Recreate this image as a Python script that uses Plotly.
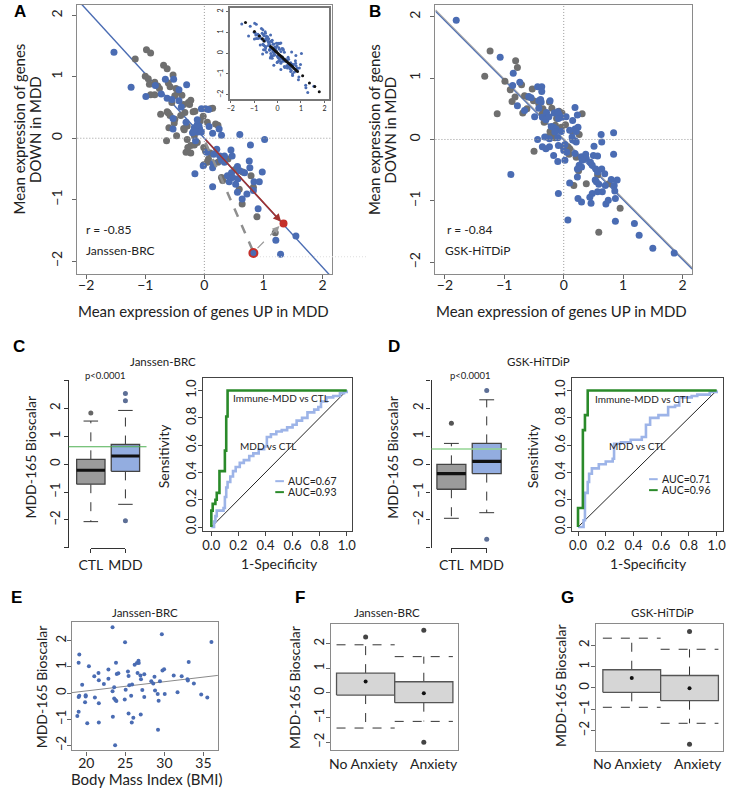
import plotly.graph_objects as go

W, H = 741, 791
FONT = "Lato, 'Open Sans', sans-serif"
LABFONT = "'Liberation Sans', Arial, sans-serif"
BLUE = "#4a6cb3"
GREY = "#6f6f6f"
TXT = "#222222"

# ---------------- Panel A : Janssen-BRC ----------------
A_blue = [(-1.53,1.40),(-1.24,0.83),(-0.99,0.68),(-0.83,0.86),(-0.66,0.96),(-0.52,0.96),(-0.73,0.72),(-0.63,0.65),
          (-0.30,0.87),(-0.43,0.61),(-0.39,0.51),(-0.53,0.32),(-0.43,0.79),(-0.55,0.63),(-0.31,0.26),(-0.53,0.15),
          (-0.17,0.17),(-0.15,0.12),(-0.12,0.16),(-0.09,0.20),(-0.20,0.09),(-0.05,0.10),(-0.13,0.14),(-0.10,0.12),
          (-0.14,0.18),(-0.08,0.15),(-0.11,0.10),(-0.16,0.13),(-0.12,0.22),(-0.18,0.12),
          (-0.05,0.48),(0.02,0.48),(0.07,0.47),(-0.12,0.30),(0.08,0.19),(0.25,0.15),(0.29,0.05),(0.14,0.08),
          (-0.15,-0.04),(0.04,-0.23),(0.16,-0.26),(0.21,-0.18),(0.26,-0.29),(0.29,-0.36),(-0.02,-0.45),(0.15,-0.41),
          (0.14,-0.48),(0.34,-0.39),(0.34,-0.29),(0.45,-0.19),(0.47,-0.29),(0.60,0.06),(0.78,-0.11),(1.02,-0.02),
          (-0.16,-0.58),(0.39,-0.61),(0.46,-0.56),(0.48,-0.64),(0.42,-0.71),(0.56,-0.46),(0.60,-0.53),(0.57,-0.66),
          (0.68,-0.56),(0.76,-0.37),(0.77,-0.48),(0.84,-0.71),(0.98,-0.55),(0.93,-0.71),(0.14,-0.79),(0.53,-0.75),
          (0.56,-0.88),(0.72,-0.91),(0.83,-0.85),(0.64,-0.99),(0.91,-1.15),(1.21,-1.66),(1.55,-1.59),(1.29,-1.89)]
A_grey = [(-1.17,1.29),(-0.98,1.44),(-0.91,1.39),(-1.00,1.01),(-0.95,0.97),(-0.91,0.71),(-0.93,0.88),(-0.84,0.71),
          (-0.76,0.81),(-0.69,1.19),(-0.63,1.13),(-0.61,0.90),(-0.58,0.84),(-0.74,0.39),(-0.63,0.43),(-0.58,0.37),
          (-0.48,0.81),(-0.45,0.75),(-0.50,0.69),(-0.55,0.58),(-0.35,0.55),(-0.23,0.62),(-0.25,0.55),(-0.33,0.42),
          (-0.16,0.44),(-0.40,0.37),(-0.50,0.31),(-0.60,0.17),(-0.47,0.04),(-0.64,-0.04),(-0.34,0.14),(-0.29,0.20),
          (0.10,0.48),(0.14,0.49),(-0.02,0.36),(-0.07,0.28),(0.05,0.26),(0.19,0.23),(0.23,0.21),(-0.17,0.04),
          (-0.29,-0.02),(-0.23,-0.12),(-0.28,-0.15),(-0.17,-0.11),(-0.12,-0.07),(-0.31,-0.23),(-0.23,-0.24),
          (-0.01,-0.15),(0.02,-0.21),(0.10,-0.24),(0.07,-0.34),(0.23,-0.39),(-0.01,-0.43),(0.05,-0.39),(0.40,-0.34),
          (0.29,-0.64),(0.31,-0.69),(0.52,-0.51),(0.65,-0.55),(0.79,-0.61),(0.59,-0.83),(0.83,-0.80),(0.64,-1.07),
          (0.89,-1.28),(1.20,-1.54),(-0.53,1.03),(-0.84,0.91),(-0.79,0.85),(-0.38,0.70),(-0.27,0.58),(-0.19,0.43),
          (-0.51,0.25),(-0.35,0.16),(-0.61,0.41)]
A_fit = (0.0, -1.05)           # intercept, slope
A_r_text = "r = -0.85"
A_red_arrow = [(0.0, 0.0), (1.30, -1.36)]
A_grey_dash = [(0.02, -0.07), (0.82, -1.83)]
A_grey_arrow = [(0.90, -1.79), (1.27, -1.43)]
A_red_point = (1.34, -1.39)
A_ring_point = (0.83, -1.87)
A_proj = [(-1.37,1.47),(-0.99,1.04),(-0.78,0.83),(-0.65,0.69),(-0.58,0.59),(-0.30,0.32),(-0.25,0.27),(-0.20,0.22),
          (-0.15,0.17),(-0.10,0.11),(-0.05,0.06),(0.00,0.01),(0.05,-0.05),(0.10,-0.10),(0.15,-0.15),(0.20,-0.20),
          (0.25,-0.26),(0.30,-0.31),(0.35,-0.36),(0.40,-0.41),(0.45,-0.46),(0.50,-0.51),(0.55,-0.56),(0.60,-0.61),
          (0.65,-0.67),(0.70,-0.72),(0.75,-0.77),(0.80,-0.83),(0.85,-0.88),(1.07,-1.08),(1.36,-1.43),(1.59,-1.60),
          (1.78,-1.85)]

# ---------------- Panel B : GSK-HiTDiP ----------------
B_blue = [(-1.81,1.94),(-1.07,1.34),(-0.85,1.08),(-0.86,0.88),(-0.78,0.55),(-0.89,-0.57),(-0.74,0.93),(-0.66,0.47),
          (-0.59,0.70),(-0.55,0.68),(-0.49,0.37),(-0.44,0.86),(-0.37,0.86),(-0.37,0.78),(-0.42,0.63),(-0.39,0.65),
          (-0.42,0.51),(-0.38,0.61),(-0.36,0.36),(-0.29,0.44),(-0.30,0.32),(-0.23,0.63),(-0.16,0.43),(-0.10,0.45),
          (-0.08,0.41),(-0.04,0.36),(-0.09,0.34),(-0.25,0.37),(-0.21,0.21),(-0.17,0.20),(-0.13,0.17),(-0.04,0.13),
          (-0.15,0.12),(-0.24,0.01),(-0.32,0.04),(-0.44,0.00),(-0.10,0.03),(0.04,0.37),(0.15,0.31),(0.19,0.52),
          (0.23,0.40),(0.19,0.17),(0.24,0.20),(0.21,0.13),(0.10,0.15),(0.14,0.04),(0.15,-0.01),(0.19,-0.02),
          (0.21,-0.04),(-0.09,-0.10),(0.02,-0.08),(0.00,-0.18),(0.05,-0.21),(-0.36,-0.12),(-0.30,-0.15),(-0.24,-0.12),
          (-0.17,-0.26),(-0.10,-0.36),(0.02,-0.34),(0.19,-0.23),(0.30,-0.28),(0.37,-0.24),(0.38,-0.31),(0.26,-0.42),
          (0.31,-0.34),(0.23,-0.48),(0.30,-0.45),(0.23,-0.61),(0.45,-0.37),(0.48,-0.42),(0.51,-0.11),(0.50,-0.26),
          (0.57,-0.27),(0.63,0.08),(0.64,-0.04),(0.84,0.11),(0.84,-0.24),(0.54,-0.48),(0.57,-0.53),(0.53,-0.66),
          (0.48,-0.88),(0.55,-0.69),(0.59,-0.73),(0.64,-0.48),(0.69,-0.56),(0.65,-0.85),(0.70,-0.75),(0.71,-1.05),
          (0.75,-0.99),(0.80,-0.65),(0.85,-0.75),(0.90,-0.66),(0.86,-0.84),(0.87,-0.96),(0.10,-0.71),(0.24,-0.96),
          (0.30,-1.02),(0.44,-0.94),(0.46,-1.04),(0.57,-0.85),(-0.09,-0.88),(0.07,-1.31),(0.87,-1.33),(1.19,-1.37),
          (1.27,-1.56),(1.50,-1.77),(1.86,-1.85)]
B_grey = [(-1.24,1.44),(-1.33,1.03),(-0.81,1.28),(-0.78,1.17),(-0.99,0.95),(-0.90,0.81),(-0.82,0.69),(-0.87,0.62),
          (-1.12,0.42),(-0.71,0.89),(-0.66,0.71),(-0.69,0.43),(-0.62,0.50),(-0.60,0.69),(-0.53,0.82),(-0.51,0.63),
          (-0.42,0.58),(-0.35,0.50),(-0.36,0.42),(-0.30,0.39),(-0.33,0.28),(-0.24,0.61),(-0.20,0.51),(-0.08,0.46),
          (-0.03,0.43),(-0.12,0.34),(-0.14,0.23),(-0.08,0.16),(-0.04,0.20),(-0.23,0.13),(-0.19,0.06),(-0.28,0.04),
          (-0.15,0.03),(0.03,0.24),(0.31,0.42),(0.15,0.13),(0.26,0.08),(-0.01,-0.12),(0.07,-0.12),(0.10,-0.15),
          (-0.50,-0.19),(0.09,-0.24),(0.21,-0.29),(0.25,-0.51),(0.57,-0.58),(0.76,-0.72),(0.95,-1.12),(0.17,-0.75),
          (0.38,-0.72),(0.59,-1.51)]
B_fit_grey = (0.008, -0.972)
B_fit_blue = (-0.012, -0.972)
B_r_text = "r = -0.84"

# ---------------- Panels C / D : boxplots (CTL vs MDD) ----------------
box_groups = ["CTL", "MDD"]
# q1, median, q3, lower whisker, upper whisker
C_stats = {"CTL": (-0.72, -0.22, 0.17, -2.06, 1.54), "MDD": (-0.26, 0.29, 0.70, -1.44, 1.92)}
C_out = {"CTL": [1.83], "MDD": [2.53, 2.27, -2.03]}
C_cut = 0.62
D_stats = {"CTL": (-0.90, -0.34, -0.01, -1.94, 0.74), "MDD": (-0.34, 0.10, 0.74, -1.74, 2.30)}
D_out = {"CTL": [1.46], "MDD": [2.63, -2.69]}
D_cut = 0.54

# ---------------- ROC curves ----------------
C_roc_all = [(0,0),(0.02,0.04),(0.03,0.08),(0.04,0.12),(0.09,0.14),(0.10,0.22),(0.11,0.29),(0.12,0.33),(0.14,0.37),
             (0.16,0.41),(0.18,0.44),(0.21,0.47),(0.24,0.49),(0.28,0.52),(0.31,0.54),(0.35,0.57),(0.39,0.59),
             (0.41,0.66),(0.44,0.68),(0.48,0.70),(0.52,0.71),(0.56,0.73),(0.60,0.75),(0.63,0.78),(0.67,0.80),
             (0.71,0.84),(0.76,0.86),(0.79,0.88),(0.81,0.92),(0.85,0.95),(0.90,0.96),(0.95,0.98),(0.98,0.99),(1.0,1.0)]
C_roc_imm = [(0,0),(0,0.12),(0.01,0.17),(0.03,0.20),(0.04,0.25),(0.06,0.41),(0.10,0.56),(0.11,0.81),(0.12,1.0),(1.0,1.0)]
D_roc_all = [(0,0),(0.04,0.05),(0.05,0.25),(0.07,0.33),(0.08,0.39),(0.10,0.43),(0.15,0.46),(0.20,0.48),(0.25,0.50),
             (0.26,0.61),(0.31,0.62),(0.38,0.64),(0.46,0.66),(0.49,0.75),(0.52,0.80),(0.58,0.82),(0.65,0.88),
             (0.70,0.89),(0.73,0.95),(0.82,0.96),(0.86,0.97),(0.95,0.99),(1.0,1.0)]
D_roc_imm = [(0,0),(0,0.14),(0.035,0.71),(0.05,0.82),(0.07,1.0),(1.0,1.0)]
C_auc = ["AUC=0.67", "AUC=0.93"]
D_auc = ["AUC=0.71", "AUC=0.96"]

# ---------------- Panel E : BMI ----------------
E_pts = [(18.85,-0.87),(19.02,-0.71),(19.02,-0.15),(19.10,-0.10),(19.02,1.16),(19.10,1.48),(19.47,0.32),(19.92,-0.13),
         (19.92,-0.08),(19.84,-0.35),(20.12,-1.15),(20.33,1.03),(21.02,0.64),(21.10,-0.17),(21.56,0.77),(21.60,0.49),
         (21.60,-0.39),(21.60,-1.12),(22.25,0.35),(22.83,0.90),(22.83,0.55),(23.36,2.52),(23.36,0.07),(23.40,-0.90),
         (23.57,0.22),(23.57,-0.21),(23.73,-0.26),(23.80,1.16),(23.90,0.73),(24.10,0.76),(23.69,-1.99),(23.85,-0.30),
         (24.96,1.94),(24.92,-0.24),(25.04,0.13),(25.33,0.83),(25.41,0.65),(25.50,0.30),(25.41,-0.78),(25.74,-0.10),
         (25.86,0.33),(25.82,-1.12),(26.02,-0.94),(26.19,1.08),(26.48,1.15),(26.68,1.24),(26.72,1.15),(26.56,0.77),
         (26.97,-0.82),(27.00,0.53),(26.93,0.67),(27.17,0.12),(27.42,-0.15),(27.42,0.72),(28.32,0.45),(28.57,0.37),
         (28.73,0.63),(28.80,0.10),(29.14,-0.03),(29.26,-0.29),(29.43,0.45),(29.18,-1.40),(29.67,2.25),(29.75,0.86),
         (29.96,0.91),(30.04,-0.03),(31.19,0.67),(31.68,0.03),(32.21,0.64),(32.95,0.53),(33.00,0.48),(33.11,1.19),
         (33.77,0.37),(34.71,-0.05),(35.49,-0.17),(36.02,1.95)]
E_fit = (-0.62, 0.0352)

# ---------------- Panels F / G : anxiety ----------------
anx_groups = ["No Anxiety", "Anxiety"]
# q1, mean dot, q3, lower whisker, upper whisker
F_stats = {"No Anxiety": (-0.09, 0.46, 0.80, -1.43, 1.95), "Anxiety": (-0.40, -0.02, 0.45, -1.16, 1.47)}
F_out = {"No Anxiety": [2.27], "Anxiety": [2.54, -2.01]}
G_stats = {"No Anxiety": (-0.21, 0.46, 0.85, -0.91, 2.33), "Anxiety": (-0.60, -0.02, 0.58, -1.66, 1.81)}
G_out = {"No Anxiety": [], "Anxiety": [2.64, -2.64]}

# =====================================================================
fig = go.Figure()


def xs(pts):
    return [p[0] for p in pts]


def ys(pts):
    return [p[1] for p in pts]


def sc(x, y, n, ny=None, **kw):
    xa = "x" if n == 1 else f"x{n}"
    nyy = n if ny is None else ny
    ya = "y" if nyy == 1 else f"y{nyy}"
    fig.add_trace(go.Scatter(x=x, y=y, xaxis=xa, yaxis=ya, showlegend=False, hoverinfo="skip", **kw))


def dx(px):
    return px / W


def dy(py):
    return 1 - py / H


axes = {}


def ax_pair(n, xpx, ypx, xr, yr, xkw=None, ykw=None):
    base = dict(showgrid=False, zeroline=False, ticks="outside", ticklen=4, tickwidth=1, tickcolor="#666",
                linecolor="#8a8a8a", linewidth=1.3, showline=True, mirror=True, fixedrange=True,
                tickfont=dict(family=FONT, size=14, color=TXT))
    xa = dict(base, domain=[dx(xpx[0]), dx(xpx[1])], range=list(xr), anchor="y" if n == 1 else f"y{n}")
    ya = dict(base, domain=[dy(ypx[1]), dy(ypx[0])], range=list(yr), anchor="x" if n == 1 else f"x{n}",
              tickangle=-90)
    if xkw:
        xa.update(xkw)
    if ykw:
        ya.update(ykw)
    axes["xaxis" if n == 1 else f"xaxis{n}"] = xa
    axes["yaxis" if n == 1 else f"yaxis{n}"] = ya


shapes = []
annos = []


def txt(s, px, py, size, angle=0, xanchor="center", color=TXT, family=FONT):
    if angle:
        px = px - 0.78 * size   # rotated annotations render shifted right; compensate
    annos.append(dict(text=s, x=dx(px), y=dy(py), xref="paper", yref="paper", xanchor=xanchor, yanchor="middle",
                      showarrow=False, textangle=angle, font=dict(family=family, size=size, color=color)))


def scatter_panel(n, blue, grey, fit_lines, xr):
    xa = "x" if n == 1 else f"x{n}"
    ya = "y" if n == 1 else f"y{n}"
    shapes.append(dict(type="line", xref=xa, yref=f"{ya} domain", x0=0, x1=0, y0=0, y1=1,
                       line=dict(color="#9a9a9a", width=1, dash="1px,2px")))
    shapes.append(dict(type="line", xref=f"{xa} domain", yref=ya, x0=0, x1=1, y0=0, y1=0,
                       line=dict(color="#9a9a9a", width=1, dash="1px,2px")))
    for (a, b), col, wd in fit_lines:
        sc(list(xr), [a + b * v for v in xr], n, mode="lines", line=dict(color=col, width=wd))
    sc(xs(grey), ys(grey), n, mode="markers", marker=dict(color=GREY, size=7))
    sc(xs(blue), ys(blue), n, mode="markers", marker=dict(color=BLUE, size=7))


# ---------- A ----------
A_xr = (-2.15, 2.16)
ax_pair(1, (68, 333), (5, 275), A_xr, (-2.21, 2.17), dict(tickvals=[-2, -1, 0, 1, 2], ticklabelstandoff=-6),
        dict(tickvals=[-2, -1, 0, 1, 2], ticklabelstandoff=5))
scatter_panel(1, A_blue, A_grey, [(A_fit, BLUE, 1.4)], A_xr)
sc(xs(A_grey_dash), ys(A_grey_dash), 1, mode="lines", line=dict(color="#8f8f8f", width=2.5, dash="dash"))
sc(xs(A_grey_arrow), ys(A_grey_arrow), 1, mode="lines", line=dict(color="#9a9a9a", width=1.2, dash="dash"))
annos.append(dict(x=A_grey_arrow[1][0], y=A_grey_arrow[1][1], ax=A_grey_arrow[1][0] - 0.05,
                  ay=A_grey_arrow[1][1] - 0.05, xref="x", yref="y", axref="x", ayref="y", text="",
                  showarrow=True, arrowhead=2, arrowsize=1.2, arrowwidth=1.2, arrowcolor="#9a9a9a"))
annos.append(dict(x=A_red_arrow[1][0], y=A_red_arrow[1][1], ax=A_red_arrow[0][0], ay=A_red_arrow[0][1],
                  xref="x", yref="y", axref="x", ayref="y", text="", showarrow=True, arrowhead=2,
                  arrowsize=1, arrowwidth=1.6, arrowcolor="#a23330"))
sc([A_red_point[0]], [A_red_point[1]], 1, mode="markers", marker=dict(color="#c4302b", size=8))
sc([A_ring_point[0]], [A_ring_point[1]], 1, mode="markers",
   marker=dict(color=BLUE, size=8, line=dict(color="#c4302b", width=2)))
shapes.append(dict(type="line", xref="paper", yref="y", x0=dx(255), x1=dx(370), y0=-1.93, y1=-1.93,
                   line=dict(color="#dddddd", width=1, dash="1px,2px")))
txt(A_r_text, 75, 230, 12, xanchor="left")
txt("Janssen-BRC", 75, 251, 12, xanchor="left")
txt("Mean expression of genes UP in MDD", 199, 312, 15)
txt("Mean expression of genes", 18, 130, 15, angle=-90)
txt("DOWN in MDD", 35, 130, 15, angle=-90)

# inset
ax_pair(2, (226.7, 330), (8.3, 99.3), (-2.04, 2.2), (-2.2, 2.16),
        dict(tickvals=[-2, -1, 0, 1, 2], tickfont=dict(family=FONT, size=7, color=TXT), ticklen=2,
             linecolor="#777", linewidth=1.5),
        dict(tickvals=[-2, -1, 0, 1, 2], tickfont=dict(family=FONT, size=7, color=TXT), ticklen=2,
             linecolor="#777", linewidth=1.5))
sc(xs(A_blue + A_grey), ys(A_blue + A_grey), 2, mode="markers", marker=dict(color=BLUE, size=3))
sc(xs(A_proj), ys(A_proj), 2, mode="markers", marker=dict(color="#111", size=3))

# ---------- B ----------
B_xr = (-2.16, 2.16)
ax_pair(3, (440.7, 707.7), (5, 275), B_xr, (-2.19, 2.19), dict(tickvals=[-2, -1, 0, 1, 2], ticklabelstandoff=-6),
        dict(tickvals=[-2, -1, 0, 1, 2], ticklabelstandoff=5))
scatter_panel(3, B_blue, B_grey, [(B_fit_grey, "#a8a8a8", 1.5), (B_fit_blue, BLUE, 1.1)], B_xr)
txt(B_r_text, 451, 230, 12, xanchor="left")
txt("GSK-HiTDiP", 449, 251, 12, xanchor="left")
txt("Mean expression of genes UP in MDD", 572, 312, 15)
txt("Mean expression of genes", 388, 130, 15, angle=-90)
txt("DOWN in MDD", 405, 130, 15, angle=-90)


# ---------- boxplot helper ----------
def boxplot(n, groups, stats, outs, fills, outcols, hw, cap_hw, dot_mid, cap_dash, edge):
    for i, g in enumerate(groups):
        p = i + 1
        q1, mid, q3, lo, hi = stats[g]
        sc([p, p, None, p, p], [q3, hi, None, q1, lo], n, mode="lines",
           line=dict(color="#333", width=1, dash="dash"))
        sc([p - cap_hw, p + cap_hw, None, p - cap_hw, p + cap_hw], [hi, hi, None, lo, lo], n, mode="lines",
           line=dict(color="#333", width=1, dash="dash" if cap_dash else "solid"))
        sc([p - hw, p + hw, p + hw, p - hw, p - hw], [q1, q1, q3, q3, q1], n, mode="lines", fill="toself",
           fillcolor=fills[i], line=dict(color=edge, width=1.3))
        if dot_mid:
            sc([p], [mid], n, mode="markers", marker=dict(color="#111", size=4))
        else:
            sc([p - hw, p + hw], [mid, mid], n, mode="lines", line=dict(color="#111", width=3.2))
        if outs[g]:
            sc([p] * len(outs[g]), outs[g], n, mode="markers", marker=dict(color=outcols[i], size=5))


def ctl_box_axes(n, nb, xpx, xr, bracket_px):
    ax_pair(n, xpx, (381.7, 550), xr, (-3, 3), dict(visible=False),
            dict(mirror=False, linecolor="#333", tickcolor="#333", tickvals=[-3, -2, -1, 0, 1, 2, 3],
                 ticktext=["", "\u22122", "\u22121", "0", "1", "2", ""], ticklabelstandoff=-2,
                 tickfont=dict(family=FONT, size=13, color=TXT)))
    axes[f"xaxis{nb}"] = dict(domain=[dx(bracket_px[0]), dx(bracket_px[1])], range=[1, 2], anchor=f"y{n}",
                              showline=True, linecolor="#333", linewidth=1.3, ticks="outside", ticklen=4,
                              tickcolor="#333", tickvals=[1, 2], ticktext=box_groups, showgrid=False,
                              zeroline=False, fixedrange=True, tickfont=dict(family=FONT, size=14, color=TXT))
    sc([1.5], [0], nb, ny=n, mode="markers", marker=dict(opacity=0, size=1))


def roc_axes(n, xpx, xr):
    ax_pair(n, xpx, (379.3, 533.3), xr, (-0.031, 1.093),
            dict(linecolor="#444", tickcolor="#444", tickvals=[0, 0.2, 0.4, 0.6, 0.8, 1.0], tickformat=".1f",
                 ticklabelstandoff=-2, tickfont=dict(family=FONT, size=13, color=TXT)),
            dict(linecolor="#444", tickcolor="#444", tickvals=[0, 0.2, 0.4, 0.6, 0.8, 1.0], tickformat=".1f",
                 ticklabelstandoff=-3, tickfont=dict(family=FONT, size=13, color=TXT)))


def roc_panel(n, all_pts, imm_pts):
    sc([0, 1], [0, 1], n, mode="lines", line=dict(color="#222", width=1))
    sc(xs(all_pts), ys(all_pts), n, mode="lines", line=dict(color="#9db4e8", width=2.6, shape="hv"))
    sc(xs(imm_pts), ys(imm_pts), n, mode="lines", line=dict(color="#2a8a2a", width=2.6, shape="hv"))


def roc_legend(px_line, px_text, py_pair, labels):
    for (py, lab, col) in zip(py_pair, labels, ["#9db4e8", "#2a8a2a"]):
        shapes.append(dict(type="line", xref="paper", yref="paper", x0=dx(px_line), x1=dx(px_line + 9),
                           y0=dy(py), y1=dy(py), line=dict(color=col, width=2)))
        txt(lab, px_text, py, 10.5, xanchor="left")


# ---------- C ----------
C_bxr = (0.36, 2.61)
ctl_box_axes(4, 5, (59, 140), C_bxr, (82, 118))
boxplot(4, box_groups, C_stats, C_out, ["#9b9b9b", "#93ade0"], ["#666", "#5d6f96"], 0.41, 0.21, False, False,
        "#444")
shapes.append(dict(type="line", xref="x4 domain", yref="y4", x0=0, x1=1, y0=C_cut, y1=C_cut,
                   line=dict(color="#4caf50", width=1.2)))
txt("p<0.0001", 97, 377, 9.5)
txt("Janssen-BRC", 157, 363, 11.5)
txt("MDD-165 Bioscalar", 30, 459, 14, angle=-90)

roc_axes(6, (199, 354), (-0.06, 1.04))
roc_panel(6, C_roc_all, C_roc_imm)
txt("Immune-MDD vs CTL", 228, 400, 10, xanchor="left")
txt("MDD vs CTL", 235, 448, 10, xanchor="left")
roc_legend(274, 285, (483, 494), C_auc)
txt("Sensitivity", 168, 458, 14, angle=-90)
txt("1-Specificity", 278, 566, 14)

# ---------- D ----------
D_bxr = (0.44, 2.57)
ctl_box_axes(7, 8, (436.7, 515), D_bxr, (457.3, 494))
boxplot(7, box_groups, D_stats, D_out, ["#9b9b9b", "#93ade0"], ["#555", "#5d6f96"], 0.41, 0.21, False, False,
        "#444")
shapes.append(dict(type="line", xref="x7 domain", yref="y7", x0=0, x1=1, y0=D_cut, y1=D_cut,
                   line=dict(color="#93d493", width=1.4)))
txt("p<0.0001", 477, 377, 9.5)
txt("GSK-HiTDiP", 548, 363, 11.5)
txt("MDD-165 Bioscalar", 407, 459, 14, angle=-90)

roc_axes(9, (583.3, 740), (-0.04, 1.046))
roc_panel(9, D_roc_all, D_roc_imm)
txt("Immune-MDD vs CTL", 605, 401, 10, xanchor="left")
txt("MDD vs CTL", 619, 448, 10, xanchor="left")
roc_legend(663, 674, (481, 492), D_auc)
txt("Sensitivity", 552, 458, 14, angle=-90)
txt("1-Specificity", 662, 566, 14)

# ---------- E ----------
E_xr = (18.15, 36.85)
ax_pair(10, (62.3, 214.3), (624.3, 753.3), E_xr, (-2.19, 2.72),
        dict(tickvals=[20, 25, 30, 35], ticklabelstandoff=-4),
        dict(tickvals=[-2, -1, 0, 1, 2], ticklabelstandoff=-4, tickfont=dict(family=FONT, size=13, color=TXT)))
sc(list(E_xr), [E_fit[0] + E_fit[1] * v for v in E_xr], 10, mode="lines", line=dict(color="#8a8a8a", width=1))
sc(xs(E_pts), ys(E_pts), 10, mode="markers", marker=dict(color=BLUE, size=4))
txt("Janssen-BRC", 138, 615, 11.5)
txt("Body Mass Index (BMI)", 140, 782, 15)
txt("MDD-165 Bioscalar", 41, 689, 14, angle=-90)

# ---------- F ----------
ax_pair(11, (332.3, 464.3), (626, 753.3), (0.41, 2.59), (-2.34, 2.81), dict(showticklabels=False, ticks=""),
        dict(tickvals=[-2, -1, 0, 1, 2], ticklabelstandoff=-3, tickfont=dict(family=FONT, size=13, color=TXT)))
boxplot(11, anx_groups, F_stats, F_out, ["#d6d6d6", "#d6d6d6"], ["#444", "#444"], 0.5, 0.5, True, True, "#555")
txt("Janssen-BRC", 390, 615, 11.5)
txt("No Anxiety", 366, 766, 14)
txt("Anxiety", 439, 766, 14)
txt("MDD-165 Bioscalar", 305, 690, 14, angle=-90)

# ---------- G ----------
ax_pair(12, (608.3, 740), (626.7, 754.3), (0.39, 2.58), (-2.98, 2.98), dict(showticklabels=False, ticks=""),
        dict(tickvals=[-2, -1, 0, 1, 2], ticklabelstandoff=-3, tickfont=dict(family=FONT, size=13, color=TXT)))
boxplot(12, anx_groups, G_stats, G_out, ["#d6d6d6", "#d6d6d6"], ["#444", "#444"], 0.5, 0.5, True, True, "#555")
txt("GSK-HiTDiP", 677, 615, 11.5)
txt("No Anxiety", 641, 766, 14)
txt("Anxiety", 714, 766, 14)
txt("MDD-165 Bioscalar", 582, 688, 14, angle=-90)

# panel letters
for lab, px, py in [("A", 8, 12), ("B", 378, 12), ("C", 7, 348), ("D", 398, 348), ("E", 5, 600),
                    ("F", 300, 600), ("G", 578, 600)]:
    annos.append(dict(text=f"<b>{lab}</b>", x=dx(px), y=dy(py), xref="paper", yref="paper", xanchor="center",
                      yanchor="middle", showarrow=False, font=dict(family=LABFONT, size=17, color="#000")))

fig.update_layout(width=W, height=H, margin=dict(l=0, r=0, t=0, b=0), paper_bgcolor="white",
                  plot_bgcolor="rgba(0,0,0,0)", showlegend=False, shapes=shapes, annotations=annos, **axes)
fig.write_html("out.html", config={"displayModeBar": False},
               post_script="document.body.style.margin='0px';document.body.style.overflow='hidden';")
